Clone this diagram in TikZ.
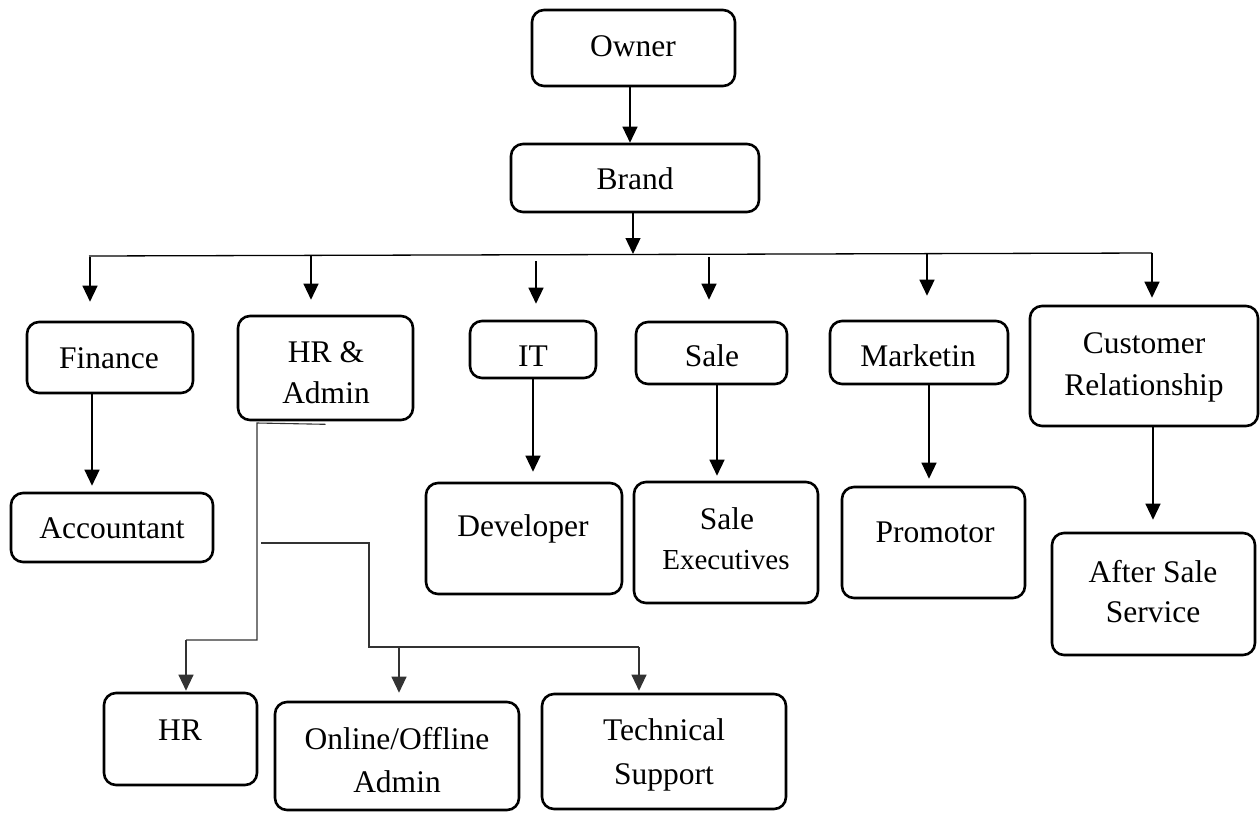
\documentclass[tikz,border=0pt]{standalone}
\usepackage{fontspec}
\setmainfont{Liberation Serif}
\usetikzlibrary{arrows.meta,calc}
\begin{document}
\begin{tikzpicture}[x=1pt,y=-1pt,
  bx/.style={draw, line width=2.6pt, rounded corners=12pt, inner sep=0pt},
  tx/.style={font=\fontsize{31.5}{38}\selectfont, inner sep=0pt, anchor=base},
  txs/.style={font=\fontsize{29}{35}\selectfont, inner sep=0pt, anchor=base},
  arr/.style={line width=1.3pt, -{Triangle[width=15pt,length=16pt]}},
  ln/.style={line width=1.3pt},
  thin/.style={line width=1.1pt, draw=black!80},
  thinarr/.style={line width=1.1pt, draw=black!80, -{Triangle[width=15pt,length=16pt]}}]
\useasboundingbox (0,0) rectangle (1260,812);

% boxes
\node[bx, minimum width=203, minimum height=76] (owner) at (633.5,48) {};
\node[bx, minimum width=248, minimum height=68] (brand) at (635,178) {};
\node[bx, minimum width=166, minimum height=71] (fin) at (110,357.5) {};
\node[bx, minimum width=175, minimum height=104] (hra) at (325.5,368) {};
\node[bx, minimum width=126, minimum height=57] (it) at (533,349.5) {};
\node[bx, minimum width=151, minimum height=62] (sale) at (711.5,353) {};
\node[bx, minimum width=178, minimum height=63] (mkt) at (919,352.5) {};
\node[bx, minimum width=228, minimum height=120] (cr) at (1144,366) {};
\node[bx, minimum width=202, minimum height=69] (acc) at (112,527.5) {};
\node[bx, minimum width=196, minimum height=111] (dev) at (524,538.5) {};
\node[bx, minimum width=184, minimum height=121] (sex) at (726,542.5) {};
\node[bx, minimum width=183, minimum height=111] (pro) at (933.5,542.5) {};
\node[bx, minimum width=203, minimum height=122] (ass) at (1153.5,594) {};
\node[bx, minimum width=153, minimum height=92] (hr) at (180.5,739) {};
\node[bx, minimum width=244, minimum height=108] (ooa) at (397,756) {};
\node[bx, minimum width=244, minimum height=115] (ts) at (664,751.5) {};

% texts
\node[tx] (owner-t) at (633,56) {Owner};
\node[tx] (brand-t) at (635,189) {Brand};
\node[tx] (fin-t) at (109,368) {Finance};
\node[tx] (hra-t1) at (326,362) {HR \&};
\node[tx] (hra-t2) at (326,403) {Admin};
\node[tx] (it-t) at (533,366) {IT};
\node[tx] (sale-t) at (712,366) {Sale};
\node[tx] (mkt-t) at (918,366) {Marketin};
\node[tx] (cr-t1) at (1144,353) {Customer};
\node[tx] (cr-t2) at (1144,395) {Relationship};
\node[tx] (acc-t) at (112,538) {Accountant};
\node[tx] (dev-t) at (523,536) {Developer};
\node[tx] (sex-t1) at (727,529) {Sale};
\node[txs] (sex-t2) at (726,569) {Executives};
\node[tx] (pro-t) at (935,542) {Promotor};
\node[tx] (ass-t1) at (1153,582) {After Sale};
\node[tx] (ass-t2) at (1153,622) {Service};
\node[tx] (hr-t) at (180,740) {HR};
\node[tx] (ooa-t1) at (397,749) {Online/Offline};
\node[tx] (ooa-t2) at (397,792) {Admin};
\node[tx] (ts-t1) at (664,740) {Technical};
\node[tx] (ts-t2) at (664,784) {Support};

% top connectors
\coordinate (o1) at ($(owner.south)+(-3.5,0)$);
\draw[arr] (o1) -- (o1 |- brand.north);
\coordinate (busL) at (89,256);
\coordinate (busR) at (1152,253);
\draw[ln] (busL) -- (busR);
\coordinate (b1) at ($(brand.south)+(-2,0)$);
\coordinate (b2) at (633,254);
\draw[arr] (b1) -- (b2);

% bus drops
\coordinate (d1) at (90,257);
\coordinate (d2) at (311,255.5);
\coordinate (d3) at (536,261);
\coordinate (d4) at (709,257);
\coordinate (d5) at (927,253.5);
\coordinate (d6) at (1152,253);
\draw[arr] (d1) -- ($(d1 |- fin.north)+(0,-19)$);
\draw[arr] (d2) -- ($(d2 |- hra.north)+(0,-15)$);
\draw[arr] (d3) -- ($(d3 |- it.north)+(0,-16)$);
\draw[arr] (d4) -- ($(d4 |- sale.north)+(0,-21)$);
\draw[arr] (d5) -- ($(d5 |- mkt.north)+(0,-24)$);
\draw[arr] (d6) -- ($(d6 |- cr.north)+(0,-7)$);

% second level
\coordinate (f1) at ($(fin.south)+(-18,0)$);
\draw[arr] (f1) -- ($(f1 |- acc.north)+(0,-6)$);
\coordinate (i1) at (it.south);
\draw[arr] (i1) -- ($(i1 |- dev.north)+(0,-10)$);
\coordinate (s1) at ($(sale.south)+(5.5,0)$);
\draw[arr] (s1) -- ($(s1 |- sex.north)+(0,-5)$);
\coordinate (m1) at ($(mkt.south)+(10,0)$);
\draw[arr] (m1) -- ($(m1 |- pro.north)+(0,-7)$);
\coordinate (c1) at ($(cr.south)+(9,0)$);
\draw[arr] (c1) -- ($(c1 |- ass.north)+(0,-12)$);

% HR & Admin tree
\coordinate (h0) at ($(hra.south)+(0,3)$);
\coordinate (hx) at (186,640);
\draw[thin] (h0) -- (257,423) -- (257,640) -- (hx);
\draw[thinarr] (hx) -- ($(hx |- hr.north)+(0,-1)$);
\coordinate (g0) at (261,543);
\coordinate (g1) at (399,647);
\coordinate (g2) at (639,647);
\draw[thin] (g0) -- (369,543) -- (369,647) -- (g2);
\draw[thinarr] (g1) -- ($(g1 |- ooa.north)+(0,-8)$);
\draw[thinarr] (g2) -- ($(g2 |- ts.north)+(0,-2)$);
\end{tikzpicture}
\end{document}
